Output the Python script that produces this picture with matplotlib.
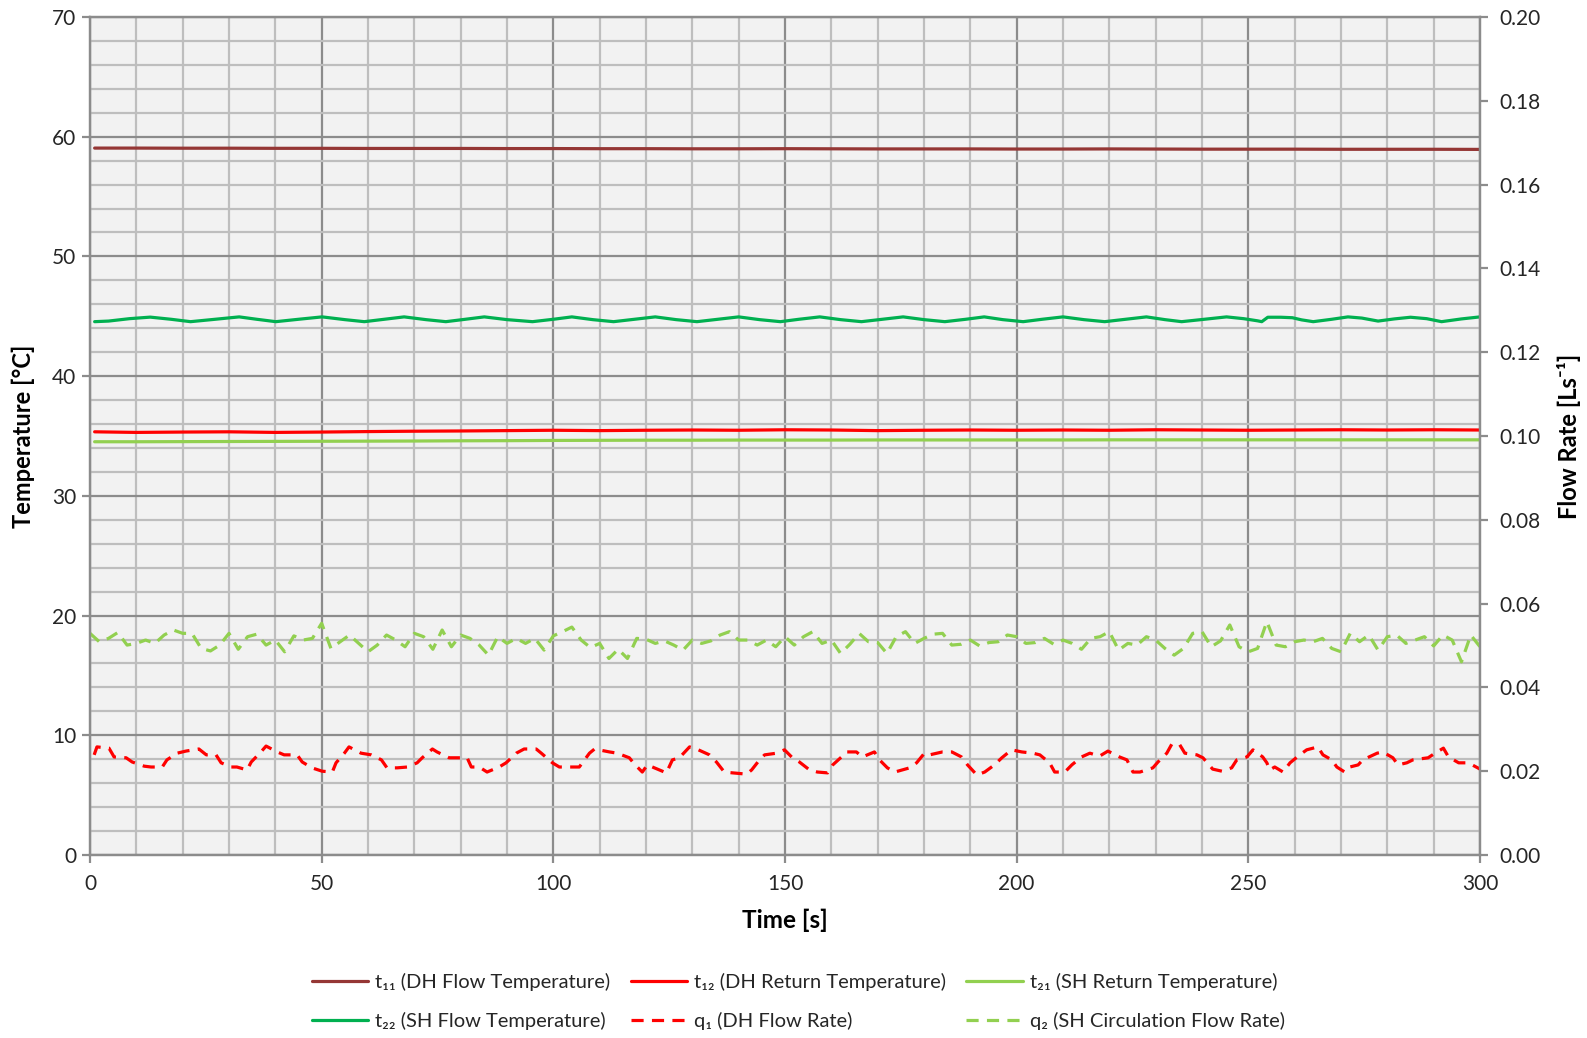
import matplotlib
matplotlib.use("Agg")
import matplotlib.pyplot as plt
from matplotlib.ticker import MultipleLocator, FormatStrFormatter

# ---------------- data ----------------
temp_time = [1, 10, 20, 30, 40, 50, 60, 70, 80, 90, 100, 110, 120, 130, 140, 150,
             160, 170, 180, 190, 200, 210, 220, 230, 240, 250, 260, 270, 280, 290, 300]
t11 = [59.05, 59.05, 59.04, 59.04, 59.03, 59.03, 59.02, 59.02, 59.02, 59.01, 59.01,
       59.00, 59.00, 58.99, 58.99, 59.00, 58.99, 58.98, 58.98, 58.98, 58.97, 58.97,
       58.98, 58.97, 58.96, 58.96, 58.96, 58.95, 58.95, 58.95, 58.94]
t12 = [35.35, 35.30, 35.33, 35.35, 35.30, 35.33, 35.37, 35.40, 35.42, 35.45, 35.48,
       35.45, 35.48, 35.50, 35.48, 35.52, 35.50, 35.45, 35.48, 35.50, 35.48, 35.50,
       35.48, 35.52, 35.50, 35.48, 35.50, 35.52, 35.50, 35.52, 35.50]
t21 = [34.52, 34.52, 34.53, 34.54, 34.55, 34.56, 34.57, 34.58, 34.60, 34.61, 34.63,
       34.64, 34.65, 34.65, 34.66, 34.66, 34.66, 34.67, 34.67, 34.67, 34.67, 34.67,
       34.68, 34.68, 34.68, 34.68, 34.68, 34.68, 34.68, 34.68, 34.68]

t22_time = [1, 4, 8.5, 13, 17.5, 21.7, 27, 32.2, 36, 40.1, 45, 50.1, 55, 59.2, 63.5,
            67.8, 72.5, 76.8, 81, 85.1, 90, 95.5, 100, 104, 108.5, 113, 117.5, 122,
            126.5, 131, 135.5, 140, 144.5, 149, 153, 157.5, 162, 166.5, 171, 175.5,
            180, 184.5, 189, 193, 197, 201.4, 205.5, 210, 214.5, 219, 223.5, 228, 232,
            235.6, 240.5, 245.3, 249, 252, 252.9, 254.2, 257, 259.5, 261.5, 264, 268,
            271.5, 274.5, 278, 281.5, 285, 288.5, 291.7, 296, 300]
t22 = [44.55, 44.60, 44.80, 44.93, 44.75, 44.55, 44.75, 44.95, 44.75, 44.55, 44.75,
       44.95, 44.72, 44.55, 44.75, 44.95, 44.72, 44.55, 44.75, 44.95, 44.72, 44.55,
       44.75, 44.95, 44.72, 44.55, 44.75, 44.95, 44.72, 44.55, 44.75, 44.95, 44.72,
       44.55, 44.75, 44.95, 44.72, 44.55, 44.75, 44.95, 44.72, 44.55, 44.75, 44.95,
       44.72, 44.55, 44.75, 44.95, 44.72, 44.55, 44.75, 44.95, 44.72, 44.55, 44.75,
       44.95, 44.80, 44.62, 44.55, 44.92, 44.92, 44.88, 44.70, 44.55, 44.75, 44.95,
       44.85, 44.60, 44.78, 44.92, 44.80, 44.55, 44.78, 44.95]

q1_time = [0.9, 1.5, 4.1, 5.2, 7.8, 9.1, 11.7, 13.2, 15.6, 16.6, 18.8, 20.7, 23.5, 25.1,
           27.2, 28.3, 30.5, 31.7, 33.9, 34.8, 36.9, 38.0, 40.4, 41.9, 44.7, 45.8, 47.9,
           50.1, 52.3, 53.1, 54.9, 55.9, 58.5, 60.7, 62.9, 64.1, 66.3, 68.5, 70.6, 71.7,
           73.9, 74.9, 77.5, 79.3, 81.4, 82.3, 84.0, 85.7, 88.3, 89.8, 92.0, 93.7, 96.3,
           97.4, 99.8, 101.3, 105.6, 107.8, 108.9, 112.1, 113.8, 116.4, 117.5, 119.2,
           120.3, 122.9, 124.4, 125.7, 127.2, 129.4, 130.9, 133.7, 135.2, 136.9, 138.7,
           141.7, 142.8, 144.5, 145.6, 148.2, 149.9, 151.6, 153.1, 155.3, 157.0, 159.2,
           160.3, 162.2, 163.3, 165.4, 166.7, 169.3, 170.4, 172.1, 173.7, 176.9, 178.4,
           180.1, 181.2, 184.0, 186.0, 188.1, 189.4, 191.4, 193.1, 195.2, 196.8, 198.9,
           201.1, 203.5, 205.0, 207.1, 208.2, 210.4, 211.9, 214.0, 215.8, 217.9, 219.7,
           222.2, 223.8, 225.1, 226.6, 229.4, 230.5, 232.4, 233.5, 235.2, 236.3, 238.9,
           240.2, 242.3, 244.3, 246.4, 247.5, 249.7, 251.0, 253.1, 254.0, 254.6, 255.7,
           257.5, 259.0, 261.1, 262.6, 265.0, 266.1, 268.0, 269.1, 270.8, 271.9, 273.7,
           274.7, 277.8, 279.0, 281.2, 282.3, 284.2, 285.5, 288.8, 290.3, 292.1, 293.2,
           295.4, 297.5, 300.0]
q1 = [0.0239, 0.0258, 0.0255, 0.0234, 0.0232, 0.0222, 0.0212, 0.0210, 0.0210, 0.0227,
      0.0243, 0.0248, 0.0253, 0.0239, 0.0239, 0.0220, 0.0210, 0.0210, 0.0203, 0.0222,
      0.0246, 0.0260, 0.0246, 0.0239, 0.0239, 0.0222, 0.0208, 0.0200, 0.0198, 0.0220,
      0.0243, 0.0258, 0.0243, 0.0239, 0.0227, 0.0208, 0.0208, 0.0210, 0.0220, 0.0232,
      0.0253, 0.0246, 0.0232, 0.0232, 0.0232, 0.0210, 0.0210, 0.0198, 0.0210, 0.0220,
      0.0243, 0.0253, 0.0253, 0.0243, 0.0220, 0.0210, 0.0210, 0.0243, 0.0253, 0.0246,
      0.0243, 0.0232, 0.0217, 0.0198, 0.0215, 0.0203, 0.0196, 0.0227, 0.0232, 0.0258,
      0.0253, 0.0239, 0.0222, 0.0198, 0.0196, 0.0193, 0.0203, 0.0227, 0.0239, 0.0243,
      0.0251, 0.0232, 0.0222, 0.0203, 0.0198, 0.0196, 0.0215, 0.0234, 0.0246, 0.0246,
      0.0234, 0.0246, 0.0227, 0.0208, 0.0198, 0.0208, 0.0220, 0.0243, 0.0239, 0.0246,
      0.0246, 0.0234, 0.0215, 0.0191, 0.0198, 0.0215, 0.0232, 0.0251, 0.0246, 0.0243,
      0.0239, 0.0220, 0.0198, 0.0198, 0.0215, 0.0234, 0.0243, 0.0236, 0.0248, 0.0234,
      0.0227, 0.0198, 0.0198, 0.0208, 0.0222, 0.0243, 0.0265, 0.0263, 0.0243, 0.0239,
      0.0232, 0.0205, 0.0200, 0.0208, 0.0227, 0.0234, 0.0251, 0.0234, 0.0220, 0.0203,
      0.0210, 0.0198, 0.0220, 0.0239, 0.0251, 0.0258, 0.0239, 0.0227, 0.0210, 0.0198,
      0.0210, 0.0215, 0.0227, 0.0243, 0.0246, 0.0232, 0.0215, 0.0220, 0.0227, 0.0232,
      0.0243, 0.0255, 0.0234, 0.0220, 0.0220, 0.0205]

q2_time = list(range(0, 301, 2))
q2 = [0.0529, 0.0509, 0.0517, 0.0531, 0.0501, 0.0505, 0.0513, 0.0505, 0.0525, 0.0537,
      0.0529, 0.0529, 0.0493, 0.0487, 0.0501, 0.0529, 0.0491, 0.0521, 0.0527, 0.0501,
      0.0513, 0.0485, 0.0523, 0.0513, 0.0517, 0.0553, 0.0493, 0.0509, 0.0525, 0.0505,
      0.0485, 0.0501, 0.0525, 0.0513, 0.0497, 0.0529, 0.0521, 0.0491, 0.0537, 0.0497,
      0.0525, 0.0517, 0.0501, 0.0477, 0.0521, 0.0505, 0.0517, 0.0505, 0.0517, 0.0489,
      0.0523, 0.0533, 0.0544, 0.0513, 0.0495, 0.0505, 0.0469, 0.0491, 0.0469, 0.0517,
      0.0515, 0.0505, 0.0511, 0.0501, 0.0489, 0.0513, 0.0505, 0.0511, 0.0525, 0.0533,
      0.0513, 0.0513, 0.0501, 0.0513, 0.0497, 0.0521, 0.0501, 0.0521, 0.0533, 0.0505,
      0.0513, 0.0481, 0.0503, 0.0529, 0.0509, 0.0507, 0.0481, 0.0521, 0.0533, 0.0505,
      0.0517, 0.0527, 0.0529, 0.0501, 0.0503, 0.0513, 0.0499, 0.0507, 0.0509, 0.0525,
      0.0521, 0.0505, 0.0507, 0.0517, 0.0503, 0.0513, 0.0505, 0.0491, 0.0517, 0.0521,
      0.0533, 0.0489, 0.0505, 0.0501, 0.0521, 0.0513, 0.0493, 0.0477, 0.0493, 0.0529,
      0.0533, 0.0497, 0.0511, 0.0549, 0.0497, 0.0485, 0.0493, 0.0557, 0.0501, 0.0497,
      0.0509, 0.0513, 0.0509, 0.0517, 0.0493, 0.0485, 0.0529, 0.0509, 0.0525, 0.0489,
      0.0521, 0.0525, 0.0505, 0.0513, 0.0521, 0.0499, 0.0525, 0.0513, 0.0461, 0.0525,
      0.0497]

labels = ["t\u2081\u2081 (DH Flow Temperature)", "t\u2081\u2082 (DH Return Temperature)",
          "t\u2082\u2081 (SH Return Temperature)", "t\u2082\u2082 (SH Flow Temperature)",
          "q\u2081 (DH Flow Rate)", "q\u2082 (SH Circulation Flow Rate)"]

# ---------------- style ----------------
plt.rcParams['font.family'] = ['Lato', 'DejaVu Sans']
C_T11 = '#953735'
C_RED = '#FF0000'
C_LGREEN = '#92D050'
C_GREEN = '#00B050'
TXT = '#262626'

fig = plt.figure(figsize=(15.87, 10.38), dpi=100)
ax = fig.add_axes([90/1587, 1-855/1038, (1480-90)/1587, (855-17)/1038])
ax.set_facecolor('#F2F2F2')
ax2 = ax.twinx()

lw = 2.3
kw = dict(lw=lw, solid_joinstyle='round', solid_capstyle='round')
l11, = ax.plot(temp_time, t11, color=C_T11, **kw)
l12, = ax.plot(temp_time, t12, color=C_RED, **kw)
l21, = ax.plot(temp_time, t21, color=C_LGREEN, **kw)
l22, = ax.plot(t22_time, t22, color=C_GREEN, **kw)
lq1, = ax2.plot(q1_time, q1, color=C_RED, lw=lw, linestyle=(0, (3.8, 2.6)))
lq2, = ax2.plot(q2_time, q2, color=C_LGREEN, lw=lw, linestyle=(0, (3.8, 2.6)))

ax.set_xlim(0, 300)
ax.set_ylim(0, 70)
ax2.set_ylim(0, 0.2)

ax.xaxis.set_major_locator(MultipleLocator(50))
ax.xaxis.set_minor_locator(MultipleLocator(10))
ax.yaxis.set_major_locator(MultipleLocator(10))
ax.yaxis.set_minor_locator(MultipleLocator(2))
ax2.yaxis.set_major_locator(MultipleLocator(0.02))
ax2.yaxis.set_major_formatter(FormatStrFormatter('%.2f'))

ax.set_axisbelow(True)
ax.grid(which='major', color='#8C8C8C', lw=1.6)
ax.grid(which='minor', color='#BEBEBE', lw=1.6)

for a in (ax, ax2):
    for s in a.spines.values():
        s.set_color('#8C8C8C')
        s.set_linewidth(1.6)
ax.tick_params(which='major', direction='out', length=6, width=1.6, color='#8C8C8C',
               labelsize=15, labelcolor=TXT, pad=4)
ax.tick_params(which='minor', length=0)
ax2.tick_params(which='major', direction='out', length=6, width=1.6, color='#8C8C8C',
                labelsize=15, labelcolor=TXT, pad=8)
ax.tick_params(axis='x', pad=8)

ax.set_xlabel('Time [s]', fontsize=17.5, fontweight='bold', color='black', labelpad=10)
ax.set_ylabel('Temperature [\u00b0C]', fontsize=17, fontweight='bold', color='black', labelpad=12)
ax2.set_ylabel('Flow Rate [Ls\u207b\u00b9]', fontsize=17, fontweight='bold', color='black', labelpad=12)

handles = [l11, l22, l12, lq1, l21, lq2]
leg_labels = [labels[0], labels[3], labels[1], labels[4], labels[2], labels[5]]
fig.legend(handles, leg_labels, loc='center', bbox_to_anchor=(0.503, 0.0355), ncol=3,
           frameon=False, fontsize=14.5, handlelength=2.8, handletextpad=0.35,
           columnspacing=1.0, labelspacing=1.05, labelcolor=TXT)

fig.savefig('out.png', dpi=100)
